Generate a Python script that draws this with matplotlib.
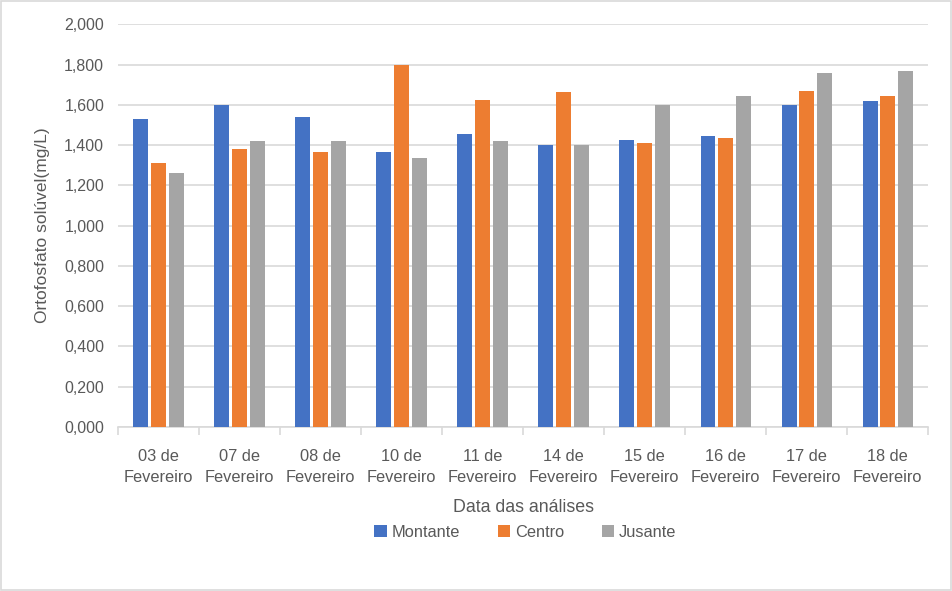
import numpy as np
import matplotlib
matplotlib.use("Agg")
import matplotlib.pyplot as plt
from matplotlib.ticker import FuncFormatter, FixedLocator

datas = ["03 de\nFevereiro", "07 de\nFevereiro", "08 de\nFevereiro", "10 de\nFevereiro",
         "11 de\nFevereiro", "14 de\nFevereiro", "15 de\nFevereiro", "16 de\nFevereiro",
         "17 de\nFevereiro", "18 de\nFevereiro"]
montante = [1.529, 1.600, 1.539, 1.364, 1.453, 1.400, 1.423, 1.443, 1.600, 1.618]
centro = [1.309, 1.379, 1.364, 1.800, 1.623, 1.663, 1.408, 1.433, 1.668, 1.643]
jusante = [1.259, 1.418, 1.418, 1.334, 1.418, 1.400, 1.600, 1.643, 1.756, 1.766]

plt.rcParams['font.family'] = ['Liberation Sans', 'DejaVu Sans']

fig = plt.figure(figsize=(9.52, 5.91), dpi=100)
ax = fig.add_axes([0.124, 0.2775, 0.851, 0.6815])

x = np.arange(len(datas))
w = 0.185
off = 0.218
ax.bar(x - off, montante, w, color="#4472c4", label="Montante", zorder=3)
ax.bar(x, centro, w, color="#ed7d31", label="Centro", zorder=3)
ax.bar(x + off, jusante, w, color="#a5a5a5", label="Jusante", zorder=3)

ax.set_xlim(-0.5, len(datas) - 0.5)
ax.set_ylim(0, 2.0)
ax.set_yticks(np.arange(0, 2.01, 0.2))
ax.yaxis.set_major_formatter(FuncFormatter(lambda v, p: f"{v:.3f}".replace('.', ',')))
ax.grid(axis='y', color="#d9d9d9", linewidth=1.2, zorder=0)

ax.set_xticks(x)
ax.set_xticklabels(datas, fontsize=11.8, color="#595959", linespacing=1.5)
ax.xaxis.set_minor_locator(FixedLocator(np.arange(-0.5, len(datas), 1.0)))
ax.tick_params(axis='x', which='major', length=0, pad=16)
ax.tick_params(axis='x', which='minor', length=6, color="#d9d9d9", width=1.2)
ax.tick_params(axis='y', length=0, labelsize=11.5, labelcolor="#595959", pad=10)

for s in ['top', 'right', 'left']:
    ax.spines[s].set_visible(False)
ax.spines['bottom'].set_color("#d9d9d9")
ax.spines['bottom'].set_linewidth(1.2)

ax.set_ylabel("Ortofosfato solúvel(mg/L)", fontsize=12.5, color="#595959", labelpad=10)
ax.set_xlabel("Data das análises", fontsize=12.8, color="#595959", labelpad=10)

fig.legend(loc='center', bbox_to_anchor=(0.552, 0.099), ncol=3, frameon=False,
           fontsize=11.8, labelcolor="#595959", handlelength=0.75, handleheight=0.75,
           handletextpad=0.3, columnspacing=2.3)

fig.patches.append(plt.Rectangle((0.001, 0.001), 0.998, 0.998, transform=fig.transFigure,
                                 fill=False, edgecolor="#d9d9d9", linewidth=1.2))

fig.savefig("out.png", dpi=100)
